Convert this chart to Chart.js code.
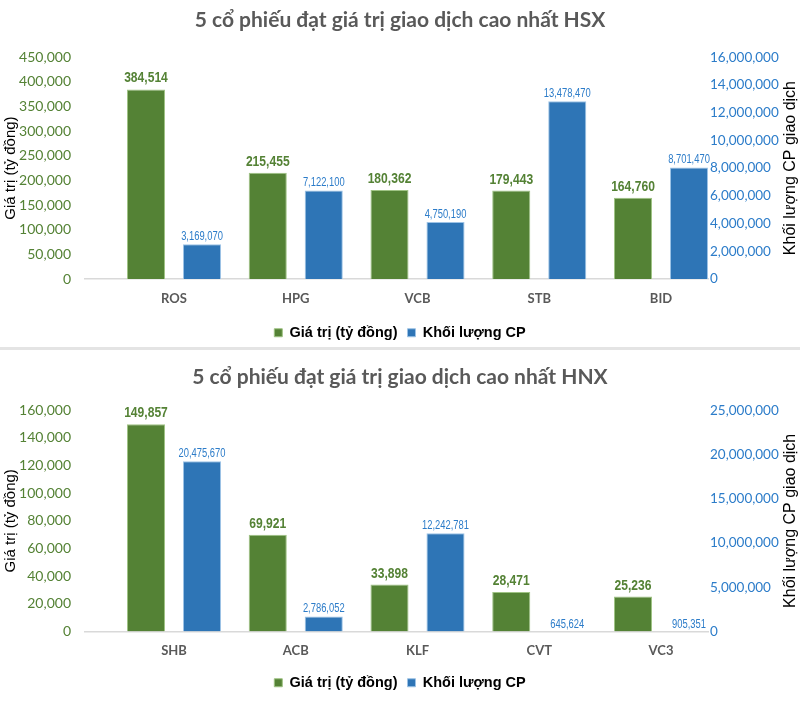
<!DOCTYPE html>
<html>
<head>
<meta charset="utf-8">
<script src="https://cdn.jsdelivr.net/npm/chart.js@4/dist/chart.umd.min.js"></script>
<style>
  html, body { margin: 0; padding: 0; background: #fff; }
  #wrap { position: relative; width: 800px; height: 724px; overflow: hidden; }
  #hsxBox { position: absolute; left: 0; top: 0; }
  #sep { position: absolute; left: 0; top: 347px; width: 800px; height: 3px; background: #e4e4e4; z-index: 2; }
  #hnxBox { position: absolute; left: 0; top: 351px; }
</style>
</head>
<body>
<div id="wrap">
  <div id="hsxBox"><canvas id="hsxChart" width="800" height="350"></canvas></div>
  <div id="sep"></div>
  <div id="hnxBox"><canvas id="hnxChart" width="800" height="373"></canvas></div>
</div>
<script>
/* global Chart */
// HSX
const hsxCodes = ["ROS", "HPG", "VCB", "STB", "BID"];
const hsxValue = [384514, 215455, 180362, 179443, 164760];          // tỷ đồng
const hsxVolume = [3169070, 7122100, 4750190, 13478470, 8701470];    // nhãn số liệu
const hsxVolumeBar = [2500000, 6390000, 4110000, 12830000, 8050000]; // chiều cao cột

// HNX
const hnxCodes = ["SHB", "ACB", "KLF", "CVT", "VC3"];
const hnxValue = [149857, 69921, 33898, 28471, 25236];
const hnxVolume = [20475670, 2786052, 12242781, 645624, 905351];
const hnxVolumeBar = [19230000, 1700000, 11090000, 0, 0];

const GREEN = "#548235";
const BLUE = "#2e75b6";
const BLUE_TEXT = "#2c7cc9";
const fmt = new Intl.NumberFormat("en-US");
const $ = (id) => document.getElementById(id);

// nhãn trên đầu cột (chữ hẹp kiểu Arial Narrow -> nén ngang)
const barLabels = {
  id: "barLabels",
  afterDatasetsDraw(chart) {
    const ctx = chart.ctx;
    chart.data.datasets.forEach((ds, di) => {
      chart.getDatasetMeta(di).data.forEach((bar, i) => {
        ctx.save();
        ctx.translate(bar.x, bar.y - ds.labelGap);
        ctx.scale(ds.labelSquash, 1);
        ctx.font = ds.labelFont;
        ctx.fillStyle = ds.labelColor;
        ctx.textAlign = "center";
        ctx.textBaseline = "alphabetic";
        ctx.fillText(fmt.format(ds.labelValues[i]), 0, 0);
        ctx.restore();
      });
    });
  }
};

// tiêu đề trục phải (xoay đọc từ dưới lên như Excel)
const rightTitle = {
  id: "rightTitle",
  afterDraw(chart) {
    const { ctx, chartArea } = chart;
    const s = chart.scales.y1;
    ctx.save();
    ctx.translate(s.right - 9, (chartArea.top + chartArea.bottom) / 2);
    ctx.rotate(-Math.PI / 2);
    ctx.font = "16px 'Liberation Sans', Arial, sans-serif";
    ctx.fillStyle = "#000";
    ctx.textAlign = "center";
    ctx.textBaseline = "middle";
    ctx.fillText("Khối lượng CP giao dịch", 0, 0);
    ctx.restore();
  }
};

function makeChart(canvasId, cfg) {
  const points = (arr) => arr.map((v, i) => ({ x: i, y: v }));
  return new Chart($(canvasId).getContext("2d"), {
    type: "bar",
    data: {
      datasets: [
        {
          label: "Giá trị (tỷ đồng)",
          data: points(cfg.value),
          yAxisID: "y",
          backgroundColor: GREEN,
          borderColor: "#9fc384",
          borderWidth: 1,
          labelValues: cfg.value,
          labelFont: "bold 15.5px 'Liberation Sans', Arial, sans-serif",
          labelSquash: 0.78,
          labelColor: GREEN,
          labelGap: 7
        },
        {
          label: "Khối lượng CP",
          data: points(cfg.volumeBar),
          yAxisID: "y1",
          backgroundColor: BLUE,
          borderColor: "#9dc3e6",
          borderWidth: 1,
          labelValues: cfg.volume,
          labelFont: "12.5px 'Liberation Sans', Arial, sans-serif",
          labelSquash: 0.75,
          labelColor: BLUE_TEXT,
          labelGap: 4
        }
      ]
    },
    options: {
      responsive: false,
      animation: false,
      categoryPercentage: 0.92,
      barPercentage: 0.68,
      layout: { padding: { left: 0, right: 0, top: 0, bottom: cfg.padBottom } },
      plugins: {
        title: {
          display: true,
          text: cfg.title,
          color: "#595959",
          font: { family: "Lato", size: 21, weight: "bold", lineHeight: 1.2 },
          padding: { top: cfg.titleTop, bottom: cfg.titleBottom }
        },
        legend: {
          position: "bottom",
          labels: {
            color: "#000",
            boxWidth: 8,
            boxHeight: 8,
            padding: 10,
            font: { family: "'Liberation Sans', Arial", size: 14.5, weight: "bold" }
          }
        },
        tooltip: { enabled: false }
      },
      scales: {
        x: {
          type: "linear",
          offset: false,
          min: -0.731,
          max: 4.386,
          grid: { display: false, drawTicks: false },
          border: { display: true, color: "#d9d9d9", width: 1.5 },
          ticks: {
            stepSize: 1,
            includeBounds: false,
            padding: 12,
            color: "#595959",
            font: { family: "Lato", size: 13, weight: "bold" },
            callback: (v) => (Number.isInteger(v) ? cfg.codes[v] : "")
          },
          afterFit: (s) => { s.height = cfg.xHeight; }
        },
        y: {
          position: "left",
          min: 0,
          max: cfg.yMax,
          grid: { display: false, drawTicks: false },
          border: { display: false },
          ticks: {
            stepSize: cfg.yStep,
            padding: 14,
            color: GREEN,
            font: { family: "Lato", size: 14 },
            callback: (v) => fmt.format(v)
          },
          title: {
            display: true,
            text: "Giá trị (tỷ đồng)",
            color: "#000",
            font: { family: "'Liberation Sans', Arial", size: 15 },
            padding: { top: 2, bottom: 0 }
          },
          afterFit: (s) => { s.width = 85; }
        },
        y1: {
          position: "right",
          min: 0,
          max: cfg.y1Max,
          grid: { display: false, drawTicks: false },
          border: { display: false },
          ticks: {
            stepSize: cfg.y1Step,
            padding: 2,
            color: BLUE_TEXT,
            font: { family: "Lato", size: 13.5 },
            callback: (v) => fmt.format(v)
          },
          afterFit: (s) => { s.width = 92; }
        }
      }
    },
    plugins: [barLabels, rightTitle]
  });
}

document.addEventListener("DOMContentLoaded", () => {
  makeChart("hsxChart", {
    title: "5 cổ phiếu đạt giá trị giao dịch cao nhất HSX",
    codes: hsxCodes, value: hsxValue, volume: hsxVolume, volumeBar: hsxVolumeBar,
    yMax: 450000, yStep: 50000, y1Max: 16000000, y1Step: 2000000,
    titleTop: 8, titleBottom: 24, padBottom: 0, xHeight: 36.5
  });
  makeChart("hnxChart", {
    title: "5 cổ phiếu đạt giá trị giao dịch cao nhất HNX",
    codes: hnxCodes, value: hnxValue, volume: hnxVolume, volumeBar: hnxVolumeBar,
    yMax: 160000, yStep: 20000, y1Max: 25000000, y1Step: 5000000,
    titleTop: 14, titleBottom: 20, padBottom: 24, xHeight: 34
  });
});
</script>
</body>
</html>
